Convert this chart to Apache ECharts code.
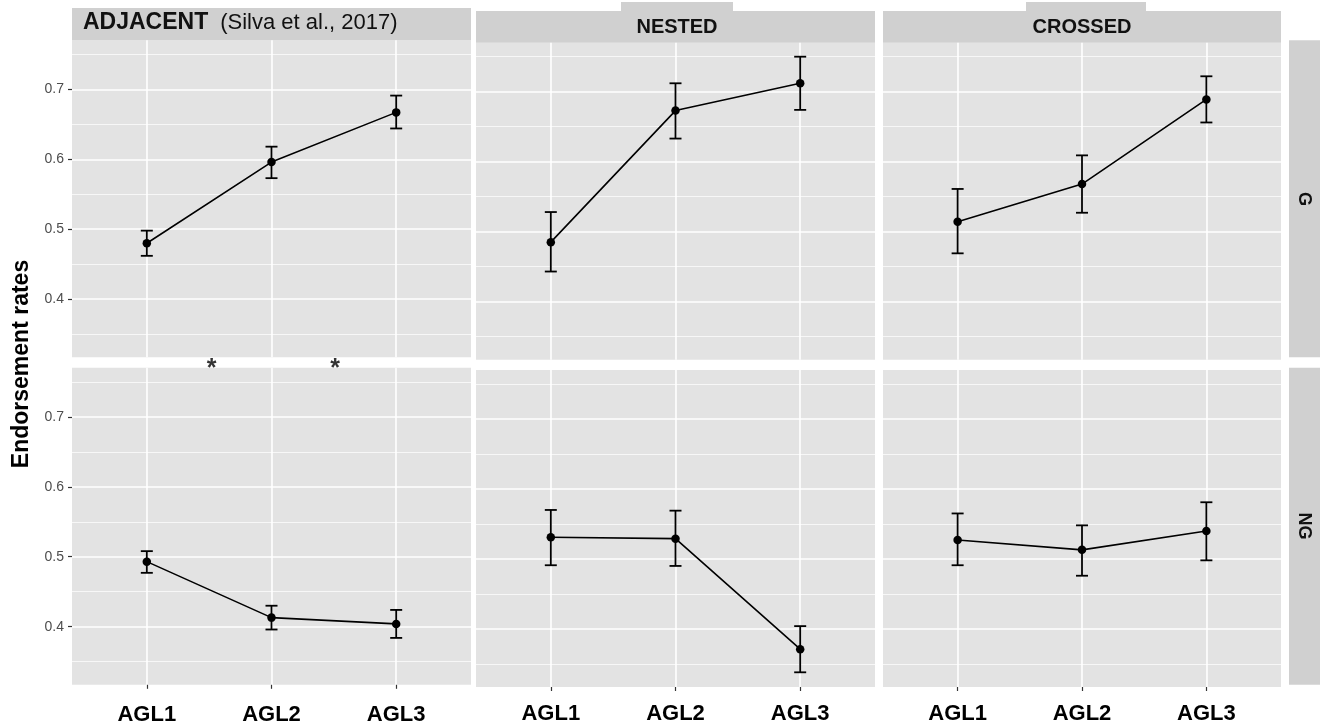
<!DOCTYPE html>
<html>
<head>
<meta charset="utf-8">
<title>Endorsement rates by AGL level</title>
<script src="https://cdn.jsdelivr.net/npm/echarts@6/dist/echarts.min.js"></script>
<style>
  html, body { margin: 0; padding: 0; background: #fff; }
  #chart { width: 1322px; height: 727px; }
</style>
</head>
<body>
<div id="chart"></div>
<script>
// facets
const conditions = ['ADJACENT', 'NESTED', 'CROSSED']
const groups = ['G', 'NG']
const levels = ['AGL1', 'AGL2', 'AGL3']

// y axis
const yTicks = [0.4, 0.5, 0.6, 0.7]
const yMinor = [0.35, 0.45, 0.55, 0.65, 0.75]

// means and error bar ends, G row
const adjacentG = [0.480, 0.596, 0.667]
const adjacentGLow = [0.462, 0.573, 0.644]
const adjacentGHigh = [0.498, 0.618, 0.691]
const nestedG = [0.485, 0.673, 0.712]
const nestedGLow = [0.443, 0.633, 0.674]
const nestedGHigh = [0.528, 0.712, 0.750]
const crossedG = [0.514, 0.568, 0.689]
const crossedGLow = [0.469, 0.527, 0.656]
const crossedGHigh = [0.561, 0.609, 0.722]

// NG row
const adjacentNG = [0.493, 0.413, 0.404]
const adjacentNGLow = [0.477, 0.396, 0.384]
const adjacentNGHigh = [0.508, 0.430, 0.424]
const nestedNG = [0.531, 0.529, 0.371]
const nestedNGLow = [0.491, 0.490, 0.338]
const nestedNGHigh = [0.570, 0.569, 0.404]
const crossedNG = [0.527, 0.513, 0.540]
const crossedNGLow = [0.491, 0.476, 0.498]
const crossedNGHigh = [0.565, 0.548, 0.581]

// significance stars (between AGL levels, adjacent panel)
const starPositions = [1.52, 2.51]

const panels = [
  { mean: adjacentG, low: adjacentGLow, high: adjacentGHigh },
  { mean: nestedG, low: nestedGLow, high: nestedGHigh },
  { mean: crossedG, low: crossedGLow, high: crossedGHigh },
  { mean: adjacentNG, low: adjacentNGLow, high: adjacentNGHigh },
  { mean: nestedNG, low: nestedNGLow, high: nestedNGHigh },
  { mean: crossedNG, low: crossedNGLow, high: crossedNGHigh }
]

const font = "'Liberation Sans', Arial, sans-serif"
const yMin = 0.317
const yMax = 0.77
const xMin = 0.4
const xMax = 3.6
const tickPos = levels.map((_, i) => i + 1)

const colLeft = [72, 476, 883]
const colWidth = [399, 399, 398]
const rowTop = [[40.3, 42.7, 42.7], [367.8, 370, 370]]
const labelMargin = [19, 16, 16]
const panelHeight = 317

const grids = []
const xAxes = []
const yAxes = []
const series = []

panels.forEach((p, i) => {
  const row = Math.floor(i / 3)
  const col = i % 3
  grids.push({
    left: colLeft[col],
    top: rowTop[row][col],
    width: colWidth[col],
    height: panelHeight,
    show: true,
    backgroundColor: '#e3e3e3',
    borderWidth: 0
  })
  const bottom = row === 1
  xAxes.push({
    type: 'value',
    gridIndex: i,
    min: xMin,
    max: xMax,
    axisLine: { show: false },
    axisTick: { show: bottom, customValues: tickPos, length: 4, lineStyle: { color: '#333', width: 1.2 } },
    axisLabel: {
      show: bottom,
      customValues: tickPos,
      formatter: v => levels[Math.round(v) - 1],
      margin: labelMargin[col],
      fontSize: 22,
      fontWeight: 'bold',
      color: '#000',
      fontFamily: font
    },
    splitLine: { show: true, lineStyle: { color: '#fff', width: 1.6 } }
  })
  // major y
  yAxes.push({
    type: 'value',
    gridIndex: i,
    min: yMin,
    max: yMax,
    axisLine: { show: false },
    axisTick: { show: col === 0, customValues: yTicks, length: 4, lineStyle: { color: '#333', width: 1.2 } },
    axisLabel: {
      show: col === 0,
      customValues: yTicks,
      formatter: v => v.toFixed(1),
      margin: 8,
      fontSize: 14,
      color: '#4d4d4d',
      fontFamily: font
    },
    splitLine: { show: true, lineStyle: { color: '#fff', width: 1.6 } }
  })
  // minor y grid lines
  yAxes.push({
    type: 'value',
    gridIndex: i,
    position: 'left',
    min: yMin,
    max: yMax,
    axisLine: { show: false },
    axisTick: { show: false, customValues: yMinor },
    axisLabel: { show: false },
    splitLine: { show: true, lineStyle: { color: '#f7f7f7', width: 1 } }
  })

  series.push({
    type: 'custom',
    xAxisIndex: i,
    yAxisIndex: i * 2,
    data: levels.map((_, k) => [k + 1, p.low[k], p.high[k]]),
    encode: { x: 0, y: [1, 2] },
    z: 3,
    renderItem: (params, api) => {
      const x = api.value(0)
      const lo = api.coord([x, api.value(1)])
      const hi = api.coord([x, api.value(2)])
      const w = 6
      const style = { stroke: '#000', lineWidth: 1.8 }
      return {
        type: 'group',
        children: [
          { type: 'line', shape: { x1: lo[0], y1: lo[1], x2: hi[0], y2: hi[1] }, style },
          { type: 'line', shape: { x1: hi[0] - w, y1: hi[1], x2: hi[0] + w, y2: hi[1] }, style },
          { type: 'line', shape: { x1: lo[0] - w, y1: lo[1], x2: lo[0] + w, y2: lo[1] }, style }
        ]
      }
    }
  })
  series.push({
    type: 'line',
    xAxisIndex: i,
    yAxisIndex: i * 2,
    data: levels.map((_, k) => [k + 1, p.mean[k]]),
    symbol: 'circle',
    symbolSize: 8.5,
    z: 4,
    lineStyle: { color: '#000', width: 1.6 },
    itemStyle: { color: '#000' }
  })
})

// stars sit on the top edge of the ADJACENT / NG panel
series.push({
  type: 'scatter',
  xAxisIndex: 3,
  yAxisIndex: 6,
  clip: false,
  symbolSize: 0,
  data: starPositions.map(x => [x, yMax]),
  label: {
    show: true,
    formatter: '*',
    position: 'inside',
    offset: [0, 1],
    fontSize: 25,
    fontWeight: 'bold',
    color: '#000',
    fontFamily: font
  }
})

const stripColor = '#d0d0d0'
const graphic = [
  // top strips
  { type: 'rect', shape: { x: 72, y: 8, width: 399, height: 32.3 }, style: { fill: stripColor } },
  { type: 'rect', shape: { x: 476, y: 11, width: 399, height: 31.7 }, style: { fill: stripColor } },
  { type: 'rect', shape: { x: 621, y: 2, width: 112, height: 10 }, style: { fill: stripColor } },
  { type: 'rect', shape: { x: 883, y: 11, width: 398, height: 31.7 }, style: { fill: stripColor } },
  { type: 'rect', shape: { x: 1026, y: 2, width: 120, height: 10 }, style: { fill: stripColor } },
  {
    type: 'text', left: 83, top: 11,
    style: {
      text: '{b|' + conditions[0] + '}{n|(Silva et al., 2017)}',
      rich: {
        b: { fontSize: 23, fontWeight: 'bold', fill: '#111', fontFamily: font, padding: [0, 12, 0, 0] },
        n: { fontSize: 22, fill: '#111', fontFamily: font }
      }
    }
  },
  {
    type: 'text', x: 677, y: 27,
    style: { text: conditions[1], fontSize: 20, fontWeight: 'bold', fill: '#111', fontFamily: font, align: 'center', verticalAlign: 'middle' }
  },
  {
    type: 'text', x: 1082, y: 27,
    style: { text: conditions[2], fontSize: 20, fontWeight: 'bold', fill: '#111', fontFamily: font, align: 'center', verticalAlign: 'middle' }
  },
  // right strips
  { type: 'rect', shape: { x: 1289, y: 40.3, width: 31, height: 317 }, style: { fill: stripColor } },
  { type: 'rect', shape: { x: 1289, y: 367.8, width: 31, height: 317 }, style: { fill: stripColor } },
  {
    type: 'text', x: 1304, y: 199, rotation: -Math.PI / 2,
    style: { text: groups[0], fontSize: 18, fontWeight: 'bold', fill: '#111', fontFamily: font, align: 'center', verticalAlign: 'middle' }
  },
  {
    type: 'text', x: 1304, y: 526, rotation: -Math.PI / 2,
    style: { text: groups[1], fontSize: 18, fontWeight: 'bold', fill: '#111', fontFamily: font, align: 'center', verticalAlign: 'middle' }
  },
  // y axis title
  {
    type: 'text', x: 22, y: 364, rotation: Math.PI / 2,
    style: { text: 'Endorsement rates', fontSize: 23, fontWeight: 'bold', fill: '#000', fontFamily: font, align: 'center', verticalAlign: 'middle' }
  }
]

const chart = echarts.init(document.getElementById('chart'), null, { renderer: 'canvas' })
chart.setOption({
  animation: false,
  backgroundColor: '#fff',
  grid: grids,
  xAxis: xAxes,
  yAxis: yAxes,
  series: series,
  graphic: graphic
})
</script>
</body>
</html>
